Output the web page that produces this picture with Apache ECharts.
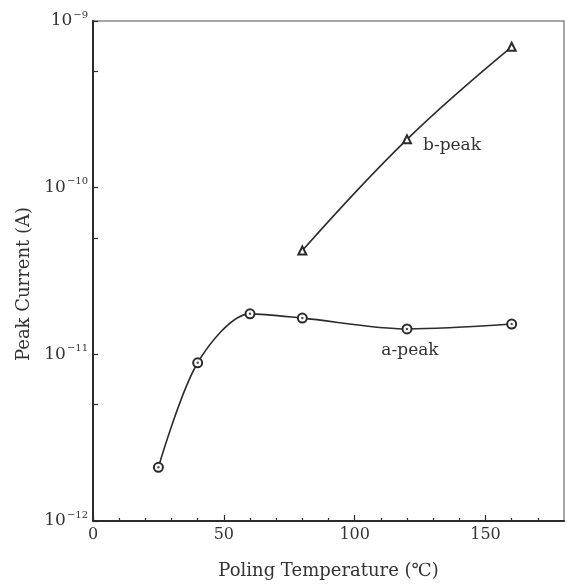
<!DOCTYPE html>
<html>
<head>
<meta charset="utf-8">
<title>Peak Current vs Poling Temperature</title>
<script src="https://cdn.jsdelivr.net/npm/echarts@6/dist/echarts.min.js"></script>
<style>
  html, body { margin: 0; padding: 0; background: #ffffff; }
  #chart { width: 567px; height: 585px; }
</style>
</head>
<body>
<div id="chart"></div>
<script>
// Poling temperature (°C) and measured peak currents (A)
var aTemps = [25, 40, 60, 80, 120, 160];
var aPeak = [2.1e-12, 8.9e-12, 1.75e-11, 1.65e-11, 1.42e-11, 1.52e-11];
var bTemps = [80, 120, 160];
var bPeak = [4.2e-11, 1.95e-10, 7.0e-10];

// Axis ticks
var xLabelTicks = [0, 50, 100, 150];
var xMinorTicks = [10, 20, 30, 40, 60, 70, 80, 90, 110, 120, 130, 140, 160, 170];
var yExponents = [-12, -11, -10, -9];
var yTickValues = [1e-12, 5e-12, 1e-11, 5e-11, 1e-10, 5e-10, 1e-9];

var FONT = '"DejaVu Serif", "Liberation Serif", serif';
var INK = '#2b2b2b';
var TEXT = '#333333';

function pairs(xs, ys) {
  return xs.map(function (x, i) { return [x, ys[i]]; });
}

var yLabelValues = yExponents.map(function (e) { return Math.pow(10, e); });

var chart = echarts.init(document.getElementById('chart'), null, { renderer: 'canvas' });

chart.setOption({
  backgroundColor: '#ffffff',
  animation: false,
  grid: {
    left: 93, right: 3, top: 21, bottom: 61,
    show: true, borderColor: '#8a8a8a', borderWidth: 1.5,
    containLabel: false
  },
  xAxis: [
    {
      type: 'value', min: 0, max: 180, position: 'bottom',
      name: 'Poling Temperature (℃)',
      nameLocation: 'middle', nameGap: 41,
      nameTextStyle: { fontFamily: FONT, fontSize: 18, color: TEXT },
      axisLine: { show: true, lineStyle: { color: INK, width: 2 } },
      axisTick: { show: true, inside: true, length: 3, customValues: xMinorTicks,
                  lineStyle: { color: INK, width: 1.2 } },
      axisLabel: { customValues: xLabelTicks, margin: 6,
                   fontFamily: FONT, fontSize: 16, color: TEXT },
      splitLine: { show: false }
    },
    {
      type: 'value', min: 0, max: 180, position: 'bottom', gridIndex: 0,
      axisLine: { show: false },
      axisTick: { show: true, inside: true, length: 6, customValues: xLabelTicks,
                  lineStyle: { color: INK, width: 1.2 } },
      axisLabel: { show: false },
      splitLine: { show: false }
    }
  ],
  yAxis: {
    type: 'log', logBase: 10, min: 1e-12, max: 1e-9,
    name: 'Peak Current (A)',
    nameLocation: 'middle', nameGap: 58, nameRotate: 90,
    nameTextStyle: { fontFamily: FONT, fontSize: 18, color: TEXT, padding: [0, 26, 0, 0] },
    axisLine: { show: true, lineStyle: { color: INK, width: 2 } },
    axisTick: { show: true, inside: true, length: 5, customValues: yTickValues,
                lineStyle: { color: INK, width: 1.2 } },
    axisLabel: {
      customValues: yLabelValues, margin: 5,
      formatter: function (v) {
        var e = Math.round(Math.log(v) / Math.LN10);
        return '{b|10}{s|\u2212' + Math.abs(e) + '}';
      },
      rich: {
        b: { fontFamily: FONT, fontSize: 17, color: TEXT, lineHeight: 22, verticalAlign: 'middle' },
        s: { fontFamily: FONT, fontSize: 10, color: TEXT, lineHeight: 22, verticalAlign: 'top', padding: [0, 0, 0, 1] }
      }
    },
    splitLine: { show: false }
  },
  series: [
    {
      name: 'a-peak', type: 'line', smooth: 0.3,
      data: pairs(aTemps, aPeak),
      symbol: 'emptyCircle', symbolSize: 9,
      lineStyle: { color: INK, width: 1.6 },
      itemStyle: { color: INK, borderColor: INK, borderWidth: 1.6 },
      label: {
        show: true, position: 'bottom', distance: 8, offset: [3, 0],
        formatter: function (p) { return p.dataIndex === 4 ? 'a-peak' : ''; },
        fontFamily: FONT, fontSize: 17, color: TEXT
      },
      z: 2
    },
    {
      // centre dots inside the a-peak circles
      name: 'a-peak-dot', type: 'scatter',
      data: pairs(aTemps, aPeak),
      symbol: 'circle', symbolSize: 2.5,
      itemStyle: { color: INK },
      silent: true, z: 3
    },
    {
      name: 'b-peak', type: 'line', smooth: 0.4,
      data: pairs(bTemps, bPeak),
      symbol: 'emptyTriangle', symbolSize: 8,
      lineStyle: { color: INK, width: 1.6 },
      itemStyle: { color: INK, borderColor: INK, borderWidth: 1.6 },
      label: {
        show: true, position: 'right', distance: 11, offset: [0, 6],
        formatter: function (p) { return p.dataIndex === 1 ? 'b-peak' : ''; },
        fontFamily: FONT, fontSize: 17, color: TEXT
      }
    }
  ]
});
</script>
</body>
</html>
